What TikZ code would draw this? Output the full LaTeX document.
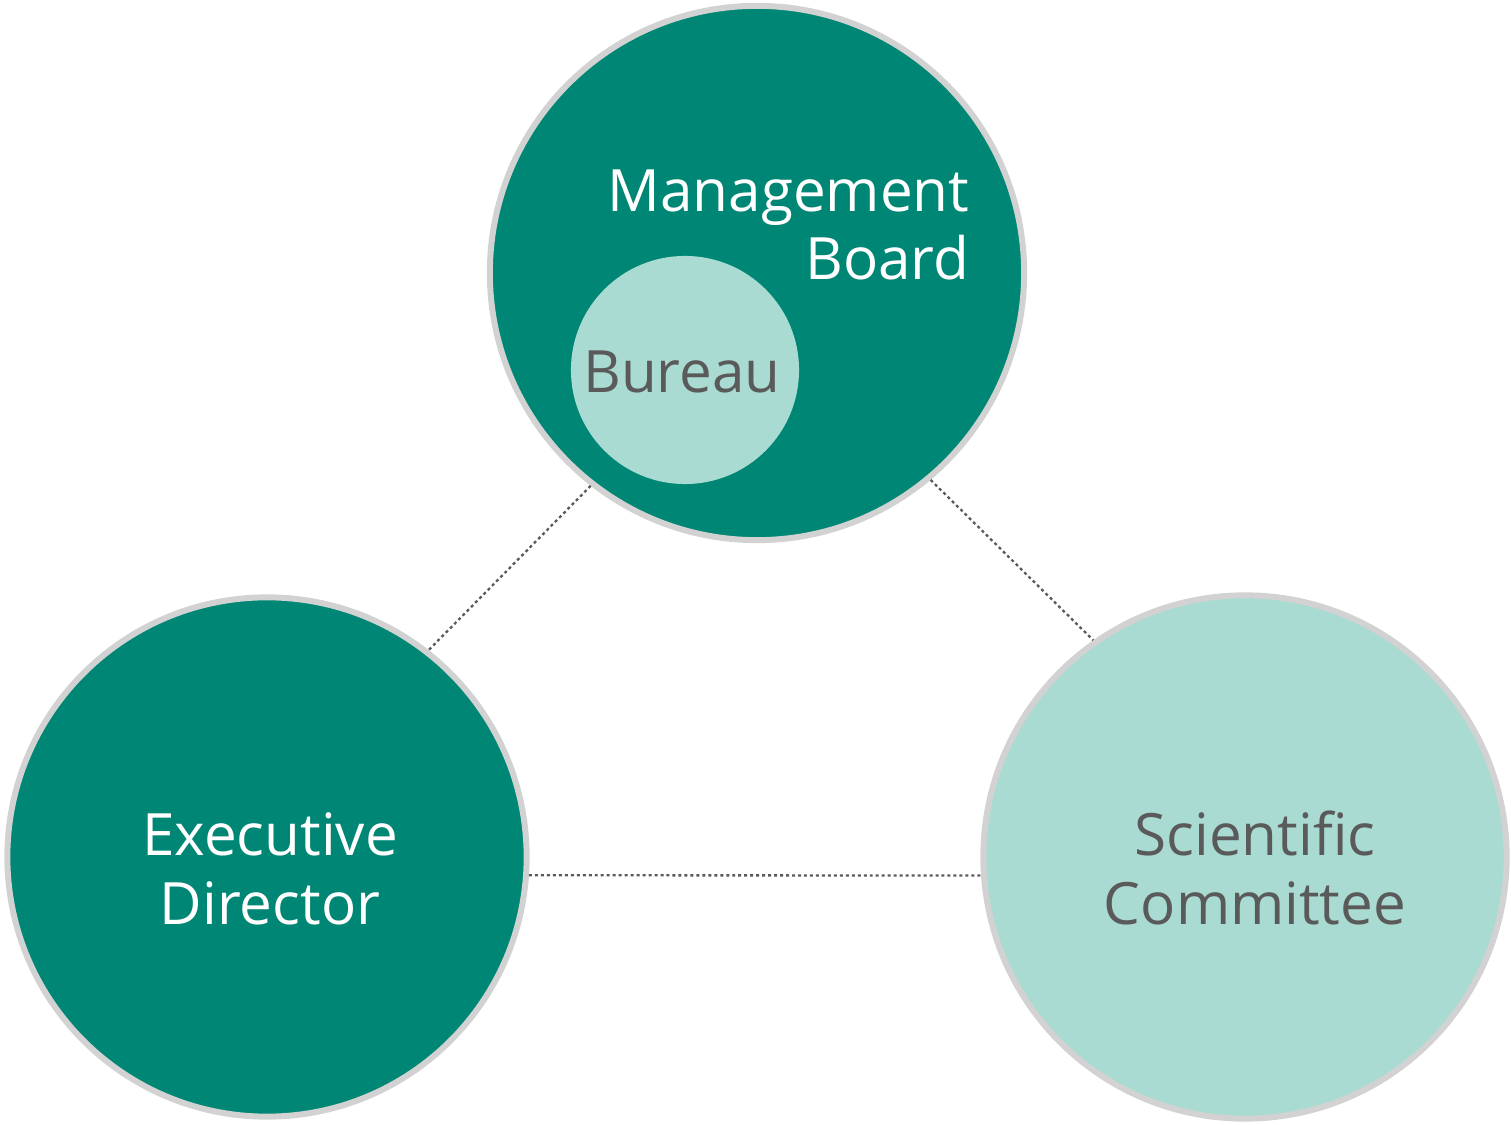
\documentclass[tikz,border=0pt]{standalone}
\usepackage{fontspec}
\setmainfont{Open Sans}
\usetikzlibrary{positioning}
\definecolor{boardteal}{RGB}{0,134,117}
\definecolor{paleteal}{RGB}{169,219,211}
\definecolor{ringgray}{RGB}{210,210,210}
\definecolor{labelgray}{RGB}{90,90,90}
\tikzset{
  body/.style={circle, draw=ringgray, line width=1.7pt, inner sep=0pt},
  darkbody/.style={body, fill=boardteal},
  lightbody/.style={body, fill=paleteal},
  lbl/.style={font=\fontsize{16.6}{19.5}\selectfont, inner sep=0pt},
  link/.style={draw=labelgray, line width=0.65pt, dash pattern=on 0.85pt off 0.85pt},
}
\begin{document}
\begin{tikzpicture}[x=0.01cm, y=-0.01cm]
\useasboundingbox (0,0) rectangle (1511,1125);
% the three bodies
\node[darkbody, minimum size=5.34cm] (board) at (757,273) {};
\node[circle, fill=paleteal, inner sep=0pt, minimum size=2.28cm] (bureau) at (685,370) {};
\node[darkbody, minimum size=5.19cm] (exec) at (267,857) {};
\node[lightbody, minimum size=5.23cm] (sci) at (1245,857) {};
% labels
\node[lbl, text=white, align=right, anchor=east] (boardtxt) at (970,225) {Management\\Board};
\node[lbl, text=labelgray, anchor=base] (bureautxt) at (682,393) {Bureau};
\node[lbl, text=white, align=center] (exectxt) at (270,869) {Executive\\Director};
\node[lbl, text=labelgray, align=center] (scitxt) at (1255,868) {Scientific\\Committee};
% links
\draw[link] (board.232) -- (exec.52);
\draw[link] (board.310) -- (sci.125);
\draw[link] (exec.356) -- (sci.184);
\end{tikzpicture}
\end{document}
